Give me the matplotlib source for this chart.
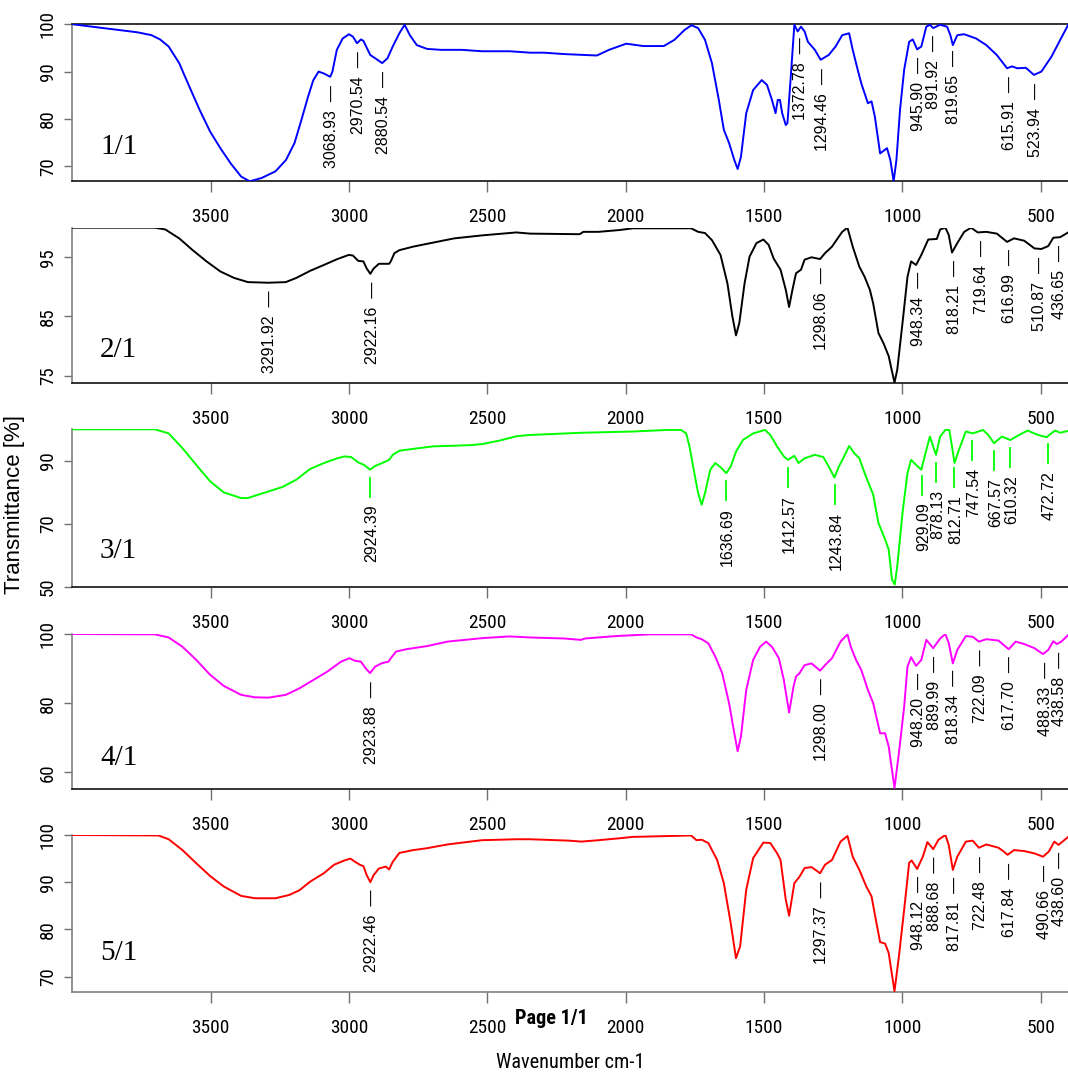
import numpy as np
import matplotlib
matplotlib.use("Agg")
import matplotlib.pyplot as plt
from matplotlib import font_manager as fm
from matplotlib.transforms import offset_copy, IdentityTransform
from matplotlib.lines import Line2D

FIG_W, FIG_H, DPI = 1068, 1075, 100

SANS = ["Liberation Sans", "DejaVu Sans"]
SERIF = ["Liberation Serif", "DejaVu Serif"]


def narrow_font(weight="normal"):
    """Return (FontProperties, scale) for a condensed sans face, if one is installed."""
    candidates = [
        (dict(family="Liberation Sans Narrow"), 1.0),
        (dict(family="Roboto Condensed"), 0.97),
        (dict(family="Roboto", stretch="condensed"), 0.97),
        (dict(family="Open Sans", stretch="condensed"), 0.92),
        (dict(family="Noto Sans", stretch="condensed"), 0.92),
        (dict(family="DejaVu Sans", stretch="condensed"), 0.9),
    ]
    for kw, scale in candidates:
        try:
            path = fm.findfont(fm.FontProperties(weight=weight, **kw), fallback_to_default=False)
        except ValueError:
            continue
        low = path.lower()
        if "narrow" in low or "condensed" in low or "cond" in low:
            return fm.FontProperties(fname=path), scale
    return fm.FontProperties(family="Liberation Sans", weight=weight), 0.9


NARROW_FP, NARROW_SCALE = narrow_font()
NARROW_BOLD_FP, NARROW_BOLD_SCALE = narrow_font("bold")

# ---------------- spectra (wavenumber cm-1, transmittance %) ----------------
wn1 = [3998, 3888, 3764, 3714, 3683, 3652, 3614, 3577, 3540, 3502, 3465, 3428, 3390, 3359, 3316,
       3266, 3228, 3197, 3172, 3148, 3129, 3110, 3091, 3068, 3060, 3044, 3023, 3000, 2986, 2971,
       2957, 2948, 2923, 2905, 2880, 2861, 2842, 2818, 2799, 2780, 2755, 2718, 2668, 2593, 2519,
       2419, 2345, 2296, 2221, 2104, 2060, 1998, 1936, 1862, 1824, 1787, 1762, 1738, 1713, 1688,
       1663, 1645, 1626, 1607, 1595, 1583, 1564, 1539, 1508, 1489, 1471, 1458, 1450, 1442, 1434,
       1421, 1415, 1403, 1390, 1378, 1366, 1353, 1341, 1316, 1295, 1266, 1241, 1217, 1192, 1179,
       1161, 1148, 1124, 1111, 1099, 1080, 1055, 1043, 1031, 1021, 1008, 993, 975, 962, 946,
       931, 913, 900, 888, 863, 838, 826, 817, 801, 776, 733, 696, 658, 621, 603,
       584, 553, 524, 497, 460, 429, 400]
t1 = [100.0, 99.2, 98.3, 97.7, 96.8, 95.3, 91.8, 86.8, 81.9, 77.3, 73.8, 70.6, 67.8, 66.8, 67.5,
      68.9, 71.3, 74.9, 79.8, 84.7, 88.2, 90.0, 89.6, 88.9, 90.0, 94.6, 97.0, 97.9, 97.4, 96.0,
      96.8, 96.5, 93.5, 92.8, 91.8, 92.8, 95.3, 98.1, 99.9, 97.7, 95.6, 94.8, 94.6, 94.6, 94.3,
      94.3, 94.0, 94.0, 93.7, 93.4, 94.6, 95.9, 95.4, 95.4, 96.7, 98.8, 99.8, 99.2, 96.7, 91.8,
      84.0, 77.7, 74.9, 71.3, 69.4, 72.0, 81.2, 86.1, 88.2, 87.2, 84.0, 81.2, 84.0, 84.0, 81.2,
      78.7, 79.1, 88.9, 99.9, 98.5, 99.5, 98.5, 96.3, 94.6, 92.5, 93.5, 95.3, 97.7, 98.1, 94.6,
      90.4, 87.5, 83.3, 83.7, 80.5, 72.7, 73.8, 71.3, 66.8, 71.3, 81.9, 90.4, 96.3, 96.8, 94.7,
      95.3, 99.5, 99.9, 99.2, 99.9, 99.5, 97.7, 95.6, 97.7, 97.9, 97.0, 95.6, 93.5, 90.7, 91.1,
      90.7, 90.8, 89.3, 90.0, 93.2, 96.7, 99.9]

wn2 = [3998, 3702, 3664, 3614, 3565, 3515, 3465, 3415, 3365, 3291, 3229, 3191, 3141, 3091, 3042,
       3001, 2986, 2967, 2948, 2936, 2923, 2911, 2892, 2855, 2849, 2836, 2818, 2768, 2694, 2619,
       2519, 2395, 2346, 2166, 2153, 2098, 2023, 1973, 1849, 1763, 1738, 1713, 1688, 1657, 1632,
       1614, 1601, 1589, 1570, 1552, 1527, 1502, 1483, 1465, 1440, 1421, 1409, 1397, 1384, 1366,
       1353, 1328, 1297, 1279, 1254, 1217, 1198, 1179, 1155, 1136, 1117, 1105, 1086, 1068, 1049,
       1028, 1018, 999, 981, 968, 950, 931, 906, 875, 863, 844, 832, 820, 801, 776,
       751, 727, 696, 658, 621, 596, 559, 522, 497, 472, 454, 429, 400]
t2 = [100.0, 100.0, 99.7, 98.2, 96.2, 94.3, 92.6, 91.5, 90.8, 90.7, 90.8, 91.5, 92.7, 93.7, 94.7,
      95.4, 95.3, 94.4, 94.3, 93.1, 92.2, 93.1, 93.9, 93.9, 94.3, 95.7, 96.2, 96.8, 97.5, 98.2,
      98.7, 99.2, 99.0, 98.9, 99.3, 99.3, 99.6, 99.9, 99.9, 99.9, 99.3, 99.1, 97.9, 95.4, 90.6,
      85.0, 81.8, 83.9, 90.6, 95.1, 97.4, 98.0, 97.1, 94.8, 92.9, 89.5, 86.6, 89.5, 92.3, 92.9,
      94.6, 95.0, 94.7, 95.7, 96.8, 99.3, 100.0, 96.8, 93.4, 91.7, 89.5, 87.2, 82.2, 80.5, 78.3,
      73.8, 76.0, 83.9, 91.7, 94.3, 93.7, 95.4, 98.0, 98.1, 99.7, 100.0, 98.8, 95.8, 97.4, 99.3,
      100.0, 99.2, 99.3, 99.0, 97.6, 98.2, 97.8, 96.5, 96.4, 96.9, 98.3, 98.4, 99.2]

wn3 = [3998, 3702, 3652, 3602, 3552, 3502, 3453, 3390, 3366, 3316, 3241, 3191, 3141, 3091, 3042,
       3017, 2992, 2967, 2945, 2924, 2905, 2880, 2855, 2842, 2818, 2768, 2694, 2619, 2557, 2519,
       2457, 2395, 2346, 2160, 1973, 1849, 1800, 1781, 1769, 1756, 1738, 1725, 1713, 1694, 1676,
       1657, 1636, 1620, 1601, 1576, 1539, 1496, 1477, 1452, 1428, 1413, 1390, 1375, 1353, 1316,
       1285, 1266, 1245, 1229, 1210, 1192, 1173, 1155, 1136, 1117, 1105, 1086, 1062, 1049, 1037,
       1027, 1018, 999, 981, 968, 950, 931, 919, 900, 888, 878, 863, 844, 830, 820,
       811, 795, 770, 745, 708, 689, 668, 640, 609, 584, 547, 509, 478, 460, 447,
       429, 400]
t3 = [100.0, 100.0, 98.7, 94.0, 88.7, 83.5, 80.0, 78.2, 78.2, 79.6, 81.7, 84.0, 87.4, 89.3, 90.8,
      91.4, 91.2, 89.5, 88.7, 87.2, 88.4, 89.3, 90.3, 91.9, 93.2, 93.8, 94.6, 94.8, 95.0, 95.3,
      96.4, 97.8, 98.2, 98.9, 99.3, 99.8, 99.8, 98.7, 94.5, 88.2, 79.8, 76.1, 79.8, 87.2, 89.3,
      88.0, 86.1, 88.2, 92.9, 96.6, 98.7, 99.8, 98.2, 94.5, 91.4, 90.3, 91.6, 89.3, 90.8, 91.9,
      91.2, 88.2, 84.7, 88.2, 91.4, 94.7, 92.4, 90.8, 86.1, 81.9, 79.3, 70.3, 65.1, 61.9, 52.4,
      50.8, 56.6, 73.5, 86.1, 90.3, 88.7, 87.2, 91.4, 97.7, 94.5, 91.9, 97.7, 99.8, 99.8, 94.5,
      89.3, 93.5, 99.3, 98.7, 99.8, 98.2, 95.6, 97.7, 96.6, 97.9, 99.6, 98.2, 97.5, 98.8, 99.6,
      98.9, 99.5]

wn4 = [3998, 3702, 3652, 3602, 3552, 3502, 3453, 3390, 3340, 3291, 3229, 3179, 3129, 3079, 3029,
       2998, 2980, 2957, 2940, 2924, 2905, 2880, 2857, 2849, 2830, 2793, 2718, 2644, 2519, 2420,
       2346, 2222, 2162, 2147, 2035, 1911, 1763, 1744, 1725, 1701, 1676, 1651, 1626, 1607, 1595,
       1583, 1564, 1539, 1514, 1492, 1471, 1446, 1428, 1409, 1393, 1384, 1372, 1353, 1328, 1297,
       1279, 1254, 1223, 1198, 1186, 1167, 1148, 1124, 1105, 1080, 1062, 1049, 1028, 1012, 993,
       981, 968, 950, 931, 913, 888, 863, 844, 832, 817, 801, 770, 745, 723, 696,
       652, 627, 615, 590, 559, 522, 491, 472, 454, 441, 425, 400]
t4 = [100.0, 99.9, 99.0, 96.3, 92.5, 88.2, 85.0, 82.4, 81.7, 81.6, 82.4, 84.3, 86.7, 89.1, 92.0,
      93.0, 92.3, 92.0, 90.1, 88.7, 90.6, 91.6, 92.0, 93.0, 94.9, 95.6, 96.5, 97.8, 98.8, 99.3,
      99.0, 98.7, 98.3, 98.7, 99.4, 99.9, 99.9, 99.0, 98.5, 97.3, 93.5, 88.7, 80.0, 71.3, 66.1,
      70.4, 83.8, 92.5, 96.3, 97.8, 96.3, 93.0, 86.7, 77.3, 84.8, 87.7, 88.6, 91.0, 91.5, 89.4,
      91.0, 93.0, 97.8, 99.9, 96.3, 92.5, 89.6, 83.8, 80.0, 71.3, 71.3, 67.5, 55.5, 65.6, 79.0,
      90.6, 93.3, 90.8, 92.5, 98.3, 95.9, 98.7, 100.0, 97.4, 91.5, 95.4, 99.4, 99.2, 97.8, 98.5,
      98.1, 96.4, 95.6, 97.8, 97.1, 95.9, 94.2, 95.4, 97.9, 97.1, 97.8, 99.7]

wn5 = [3998, 3689, 3652, 3602, 3552, 3502, 3453, 3390, 3340, 3266, 3216, 3179, 3141, 3091, 3054,
       3017, 2995, 2980, 2961, 2948, 2936, 2923, 2911, 2892, 2867, 2855, 2842, 2818, 2768, 2718,
       2644, 2519, 2395, 2346, 2203, 2160, 2098, 2023, 1973, 1763, 1744, 1725, 1701, 1669, 1645,
       1620, 1601, 1586, 1564, 1539, 1502, 1477, 1452, 1440, 1421, 1409, 1390, 1372, 1353, 1328,
       1297, 1279, 1254, 1223, 1198, 1179, 1155, 1130, 1111, 1093, 1080, 1062, 1049, 1028, 1012,
       993, 975, 966, 946, 925, 909, 888, 869, 844, 832, 817, 801, 770, 745, 723,
       696, 652, 633, 619, 596, 559, 522, 491, 470, 450, 435, 400]
t5 = [100.0, 99.9, 99.1, 96.8, 94.0, 91.3, 89.1, 87.1, 86.6, 86.6, 87.3, 88.3, 90.1, 91.9, 93.7,
      94.6, 95.0, 94.4, 93.7, 93.4, 91.5, 90.0, 91.5, 92.9, 93.3, 92.7, 94.3, 96.2, 96.8, 97.2,
      98.0, 98.9, 99.1, 99.1, 98.8, 98.6, 98.9, 99.3, 99.6, 99.9, 98.9, 99.0, 98.3, 94.7, 89.8,
      81.3, 73.9, 76.4, 88.4, 95.1, 98.4, 98.3, 96.1, 94.7, 86.3, 82.9, 89.8, 91.1, 93.0, 93.2,
      91.9, 93.7, 94.7, 98.6, 99.8, 95.4, 92.6, 89.1, 87.0, 81.3, 77.3, 77.0, 75.0, 66.9, 74.3,
      84.2, 94.1, 94.6, 92.8, 95.5, 98.5, 97.0, 99.0, 100.0, 97.9, 92.6, 95.4, 98.6, 98.8, 97.3,
      98.0, 97.3, 96.5, 95.8, 96.8, 96.6, 96.1, 95.4, 96.5, 98.6, 97.9, 99.6]

# labelled band positions
peaks1 = [3068.93, 2970.54, 2880.54, 1372.78, 1294.46, 945.90, 891.92, 819.65, 615.91, 523.94]
peaks2 = [3291.92, 2922.16, 1298.06, 948.34, 818.21, 719.64, 616.99, 510.87, 436.65]
peaks3 = [2924.39, 1636.69, 1412.57, 1243.84, 929.09, 878.13, 812.71, 747.54, 667.57, 610.32, 472.72]
peaks4 = [2923.88, 1298.00, 948.20, 889.99, 818.34, 722.09, 617.70, 488.33, 438.58]
peaks5 = [2922.46, 1297.37, 948.12, 888.68, 817.81, 722.48, 617.84, 490.66, 438.60]

sample_names = ["1/1", "2/1", "3/1", "4/1", "5/1"]
x_ticks = [3500, 3000, 2500, 2000, 1500, 1000, 500]

# ---------------- layout (pixels from the top of the figure) ----------------
spectra = [(wn1, t1, peaks1), (wn2, t2, peaks2), (wn3, t3, peaks3), (wn4, t4, peaks4), (wn5, t5, peaks5)]
colors = ["#0000ff", "#000000", "#00ff00", "#ff00ff", "#ff0000"]
panel_top = [24.3, 227.7, 429.3, 634.0, 835.0]
panel_bot = [181.3, 383.3, 587.0, 789.3, 991.7]
y_limits = [(66.8, 100), (73.7, 100), (50, 100), (55.1, 100), (66.8, 100)]
y_ticks = [[70, 80, 90, 100], [75, 85, 95], [50, 70, 90], [60, 80, 100], [70, 80, 90, 100]]
name_baseline = [153.5, 356.5, 558.0, 765.0, 960.0]
X_LEFT, X_RIGHT = 72.4, 1068.2

tick_fp = NARROW_FP.copy()
tick_fp.set_size(14.4 * NARROW_SCALE)
ytick_fp = NARROW_FP.copy()
ytick_fp.set_size(14.0 * NARROW_SCALE)

fig = plt.figure(figsize=(FIG_W / DPI, FIG_H / DPI), dpi=DPI)
fig.patch.set_facecolor("white")

for i, (wn, tr, peaks) in enumerate(spectra):
    top, bot = panel_top[i], panel_bot[i]
    ax = fig.add_axes([X_LEFT / FIG_W, 1 - bot / FIG_H, (X_RIGHT - X_LEFT) / FIG_W, (bot - top) / FIG_H])
    ax.set_facecolor("none")
    ax.plot(wn, tr, color=colors[i], lw=1.4, solid_joinstyle="round", zorder=3)
    ax.set_xlim(4000, 400)
    ax.set_ylim(*y_limits[i])

    ax.spines["right"].set_visible(False)
    ax.spines["top"].set_visible(i == 0)
    ax.spines["top"].set_color("#111111")
    ax.spines["left"].set_color("#808080")
    ax.spines["bottom"].set_color("#808080" if i == 4 else "#111111")
    for s in ax.spines.values():
        s.set_linewidth(1.2)

    ax.set_xticks(x_ticks)
    ax.set_xticklabels([str(v) for v in x_ticks], fontproperties=tick_fp)
    ax.tick_params(axis="x", direction="out", length=7.9, width=1.0, color="#707070", pad=11.5)
    ax.set_yticks(y_ticks[i])
    ax.set_yticklabels([str(v) for v in y_ticks[i]], fontproperties=ytick_fp,
                       rotation=90, va="center", ha="right")
    ax.tick_params(axis="y", direction="out", length=5.8, width=1.0, color="#707070", pad=5.4)

    # band labels below each marked minimum
    for p in peaks:
        yc = float(np.interp(p, wn[::-1], tr[::-1]))
        if i == 2:
            px, py = ax.transData.transform((p, yc))
            fig.add_artist(Line2D([px, px], [py - 8, py - 27], transform=IdentityTransform(),
                                  color=colors[i], lw=1.3))
            trans = offset_copy(ax.transData, fig=fig, x=1.5, y=-35, units="dots")
            ax.text(p, yc, f"{p:.2f}", transform=trans, rotation=90, ha="center", va="top",
                    fontsize=11.5, family=SANS, color="black", clip_on=False, zorder=4)
        else:
            trans = offset_copy(ax.transData, fig=fig, x=1.5, y=-8, units="dots")
            ax.text(p, yc, f"{p:.2f}  \u2014", transform=trans, rotation=90, ha="center",
                    va="top", fontsize=11.5, family=SANS, color="black", clip_on=False, zorder=4)

    fig.text(100 / FIG_W, 1 - name_baseline[i] / FIG_H, sample_names[i], family=SERIF,
             fontsize=21, ha="left", va="baseline")

fig.text(15 / FIG_W, 1 - 505 / FIG_H, "Transmittance [%]", rotation=90, ha="center", va="center",
         fontsize=16, family=SANS)

page_fp = NARROW_BOLD_FP.copy()
page_fp.set_size(15 * NARROW_BOLD_SCALE)
page_fp.set_weight("bold")
fig.text(551 / FIG_W, 1 - 1018 / FIG_H, "Page 1/1", ha="center", va="center", fontproperties=page_fp)

axis_fp = NARROW_FP.copy()
axis_fp.set_size(15 * NARROW_SCALE)
fig.text(570 / FIG_W, 1 - 1062 / FIG_H, "Wavenumber cm-1", ha="center", va="center",
         fontproperties=axis_fp)

fig.savefig("out.png", dpi=DPI, facecolor="white")
